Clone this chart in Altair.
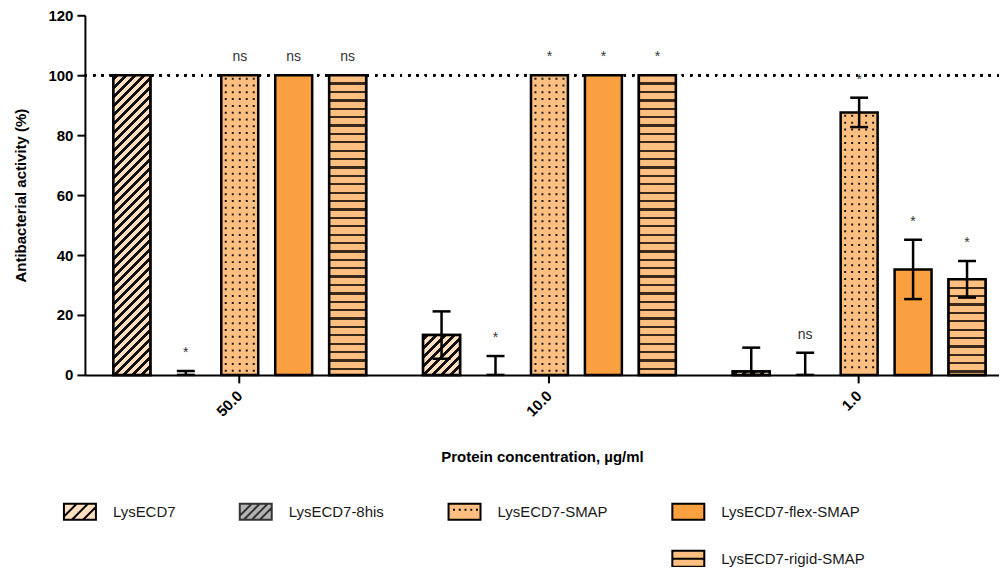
import altair as alt
import pandas as pd

# ---------------- data ----------------
concs = ["50.0", "10.0", "1.0"]
series = ["LysECD7", "LysECD7-8his", "LysECD7-SMAP", "LysECD7-flex-SMAP", "LysECD7-rigid-SMAP"]

mean_lys = [100, 13.3, 1.1]
mean_8his = [0, 0, 0]
mean_smap = [100, 100, 87.6]
mean_flex = [100, 100, 35.2]
mean_rigid = [100, 100, 31.9]

sd_lys = [0, 7.9, 8.0]
sd_8his = [1.3, 6.3, 7.4]
sd_smap = [0, 0, 4.9]
sd_flex = [0, 0, 9.9]
sd_rigid = [0, 0, 6.1]

sig_lys = ["", "", ""]
sig_8his = ["*", "*", "ns"]
sig_smap = ["ns", "*", "*"]
sig_flex = ["ns", "*", "*"]
sig_rigid = ["ns", "*", "*"]

reference_level = 100

# ---------------- styling ----------------
FONT = "Liberation Sans"
W, H = 915, 360
YMAX = 120
PX = H / YMAX          # pixels per data unit
BW = 37.0              # bar width in px

C_LYS = "#FFDFBF"
C_8HIS = "#B4B4B4"
C_SMAP = "#FFBF80"
C_FLEX = "#FBA040"
C_RIGID = "#FFBF80"
C_DARK = "#111111"
C_STRIPE = "#3A2A1C"

means = [mean_lys, mean_8his, mean_smap, mean_flex, mean_rigid]
sds = [sd_lys, sd_8his, sd_smap, sd_flex, sd_rigid]
sigs = [sig_lys, sig_8his, sig_smap, sig_flex, sig_rigid]

rows = []
for s, ml, sl, gl in zip(series, means, sds, sigs):
    for c, m, sd, g in zip(concs, ml, sl, gl):
        rows.append(dict(conc=c, series=s, mean=m, sd=sd, upper=m + sd,
                         lower=max(0.0, m - sd), sig=g))
df = pd.DataFrame(rows)


def diag_fill(value, bg, fg, period=9.0, thick=4.2):
    h = value * PX
    w = BW
    L = w + h
    t = L / (w * w + h * h)
    stops = [{"offset": 0, "color": bg}]
    c = 2.0
    while c < L:
        s = round(c / L, 5)
        e = round(min((c + thick) / L, 1.0), 5)
        stops += [{"offset": s, "color": bg}, {"offset": s, "color": fg},
                  {"offset": e, "color": fg}, {"offset": e, "color": bg}]
        c += period
    stops.append({"offset": 1, "color": bg})
    return {"gradient": "linear", "x1": 0, "y1": 0,
            "x2": round(t * w, 6), "y2": round(t * h, 6), "stops": stops}


def hstripe_fill(value, bg, fg, period=8.4, thick=2.3):
    h = value * PX
    stops = [{"offset": 0, "color": bg}]
    c = period
    while c + thick / 2 < h - 1:
        s = round((c - thick / 2) / h, 5)
        e = round((c + thick / 2) / h, 5)
        stops += [{"offset": s, "color": bg}, {"offset": s, "color": fg},
                  {"offset": e, "color": fg}, {"offset": e, "color": bg}]
        c += period
    stops.append({"offset": 1, "color": bg})
    return {"gradient": "linear", "x1": 0, "y1": 0, "x2": 0, "y2": 1, "stops": stops}


# dotted pattern rows for the SMAP bars
dot_rows = []
for c, m in zip(concs, mean_smap):
    k = 0
    while (3.5 + 6.8 * k) < m * PX - 3:
        dot_rows.append(dict(conc=c, series=series[2], yv=m - (3.5 + 6.8 * k) / PX))
        k += 1
df_dots = pd.DataFrame(dot_rows)

DOT_SIZE = 36 ** 2  # half width = 18 px
u = 1 / 18.0
dot_path = " ".join(
    f"M{(x * u - u):.4f},{-u:.4f}h{2 * u:.4f}v{2 * u:.4f}h{-2 * u:.4f}Z" for x in [-14, -7, 0, 7, 14]
)


# ---------------- legend symbols (custom paths) ----------------
def diag_lines(cs):
    segs = []
    for c in cs:
        xlo = max(-1.0, c - 0.5)
        xhi = min(1.0, c + 0.5)
        if xlo < xhi:
            segs.append(f"M{xlo:.3f},{c - xlo:.3f}L{xhi:.3f},{c - xhi:.3f}")
    return "".join(segs)


RECT = "M-1,-0.5H1V0.5H-1Z"
p_lys = RECT + diag_lines([-0.7, 0.0, 0.7])
p_8his = RECT + diag_lines([-0.75, -0.25, 0.25, 0.75])
p_smap = RECT + "".join(f"M{x:.2f},-0.12h0.12" for x in [-0.72, -0.36, 0.0, 0.36, 0.72])
p_flex = RECT
p_rigid = RECT + "M-1,0H1"
BLANK = "M0,0L0,0"

leg_domain = series[:4] + ["_a", "_b", "_c"] + [series[4]]
fill_range = [C_LYS, C_8HIS, C_SMAP, C_FLEX, "transparent", "transparent", "transparent", C_RIGID]
stroke_range = ["black", "#333333", "black", "black", "transparent", "transparent", "transparent", "black"]
shape_range = [p_lys, p_8his, p_smap, p_flex, BLANK, BLANK, BLANK, p_rigid]

fill_scale = alt.Scale(domain=leg_domain, range=fill_range)

# ---------------- encodings ----------------
x_axis = alt.Axis(title="Protein concentration, µg/ml", labelAngle=-45, labelAlign="right",
                  labelBaseline="middle", labelPadding=10, tickSize=8, titlePadding=30)
xs = alt.X("conc:N", sort=concs,
           scale=alt.Scale(domain=concs, paddingInner=0.129, paddingOuter=0.0403, align=0.8),
           axis=x_axis)
xo = alt.XOffset("series:N", sort=series,
                 scale=alt.Scale(domain=series, paddingInner=0.315, paddingOuter=0.1575))
y_scale = alt.Scale(domain=[0, YMAX], nice=False)
y_axis = alt.Axis(title="Antibacterial activity (%)", values=[0, 20, 40, 60, 80, 100, 120],
                  tickSize=8, labelPadding=4, titlePadding=19)


def Y(field):
    return alt.Y(field, type="quantitative", scale=y_scale, axis=y_axis, stack=None)


base = alt.Chart(df)

legend = alt.Legend(orient="none", legendX=-22, legendY=480, direction="horizontal", columns=4,
                    title=None, labelFont=FONT, labelFontSize=15, labelColor="#1a1a1a",
                    symbolSize=1024, symbolStrokeWidth=2, labelOffset=16, columnPadding=60,
                    rowPadding=18, labelLimit=400,
                    labelExpr="indexof(datum.label, '_') == 0 ? '' : datum.label")

# invisible layer that only carries the (patterned) legend
legend_layer = base.transform_filter("false").mark_point(filled=True, opacity=1).encode(
    fill=alt.Fill("series:N", scale=fill_scale, legend=legend),
    stroke=alt.Stroke("series:N", scale=alt.Scale(domain=leg_domain, range=stroke_range), legend=legend),
    shape=alt.Shape("series:N", scale=alt.Scale(domain=leg_domain, range=shape_range), legend=legend),
)

ref_line = base.mark_rule(strokeDash=[2, 6.3], strokeWidth=2, color="black").encode(
    y=alt.YDatum(reference_level, type="quantitative", scale=y_scale, axis=y_axis)
)

bars = base.transform_filter("datum.mean > 0").mark_bar(stroke="black", strokeWidth=2.5).encode(
    x=xs, xOffset=xo, y=Y("mean"),
    fill=alt.Fill("series:N", scale=fill_scale, legend=legend),
)

pattern_layers = []
for c, m in zip(concs, mean_lys):
    if m > 0:
        pattern_layers.append(
            base.transform_filter(f"datum.series == '{series[0]}' && datum.conc == '{c}'")
            .mark_bar(fill=diag_fill(m, C_LYS, C_DARK), stroke="black", strokeWidth=2.5)
            .encode(x=xs, xOffset=xo, y=Y("mean"))
        )
for c, m in zip(concs, mean_rigid):
    if m > 0:
        pattern_layers.append(
            base.transform_filter(f"datum.series == '{series[4]}' && datum.conc == '{c}'")
            .mark_bar(fill=hstripe_fill(m, C_RIGID, C_STRIPE), stroke="black", strokeWidth=2.5)
            .encode(x=xs, xOffset=xo, y=Y("mean"))
        )

dots = alt.Chart(df_dots).mark_point(shape=dot_path, filled=True, size=DOT_SIZE,
                                     color="#1a1a1a", opacity=1, strokeWidth=0).encode(
    x=xs, xOffset=xo, y=Y("yv")
)

err_base = base.transform_filter("datum.sd > 0")
err_rule = err_base.mark_rule(color="black", strokeWidth=2.5).encode(
    x=xs, xOffset=xo, y=Y("lower"), y2="upper:Q")
cap_hi = err_base.mark_tick(orient="horizontal", size=18, thickness=2.5, color="black", opacity=1).encode(
    x=xs, xOffset=xo, y=Y("upper"))
cap_lo = err_base.mark_tick(orient="horizontal", size=18, thickness=2.5, color="black", opacity=1).encode(
    x=xs, xOffset=xo, y=Y("lower"))

labels = base.transform_filter("datum.sig != ''").mark_text(
    dy=-14, baseline="alphabetic", font=FONT, fontSize=14, color="#333333").encode(
    x=xs, xOffset=xo, y=Y("upper"), text="sig:N")

chart = alt.layer(
    legend_layer, ref_line, bars, *pattern_layers, dots, err_rule, cap_hi, cap_lo, labels
).properties(
    width=W, height=H,
    autosize=alt.AutoSizeParams(type="none"),
    padding={"left": 77, "top": 7, "right": 0, "bottom": 192},
).configure_view(stroke=None).configure_axis(
    domainColor="black", domainWidth=2, tickColor="black", tickWidth=2,
    labelFont=FONT, labelFontWeight="bold", labelFontSize=15, labelColor="black",
    titleFont=FONT, titleFontWeight="bold", titleFontSize=15, titleColor="black", grid=False,
)

chart.save("out.html", embed_options={"renderer": "svg", "actions": False})
